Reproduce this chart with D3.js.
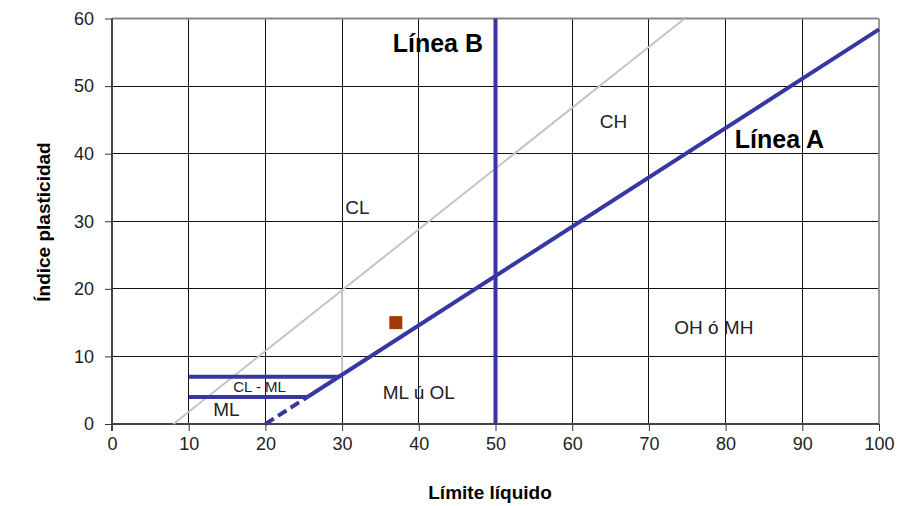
<!DOCTYPE html>
<html><head><meta charset="utf-8">
<script src="https://cdn.jsdelivr.net/npm/d3@7"></script>
<style>body{margin:0;background:#fff;} text{font-family:"Liberation Sans",Arial,sans-serif;}</style>
</head><body><svg id="c" width="899" height="506"></svg>
<script>
const xTicks = [0,10,20,30,40,50,60,70,80,90,100];
const yTicks = [0,10,20,30,40,50,60];
// A-line: PI = 0.73 (LL - 20)
const lineASolid = [[25.48,4],[100,58.4]];
const lineADashed = [[20,0],[25.48,4]];
// U-line: PI = 0.9 (LL - 8)
const lineU = [[8,0],[74.67,60]];
const lineB = [[50,0],[50,60]];
const clmlTop = [[10,7],[29.59,7]];
const clmlBottom = [[10,4],[25.48,4]];
const grayVert = [[30,7],[30,19.8]];
const samplePoint = [[37,15]];
const zoneLabels = [
  {t:"CH", x:63.6, y:43.8, size:19, bold:false},
  {t:"CL", x:30.4, y:31.1, size:19, bold:false},
  {t:"OH ó MH", x:73.3, y:13.3, size:19, bold:false},
  {t:"ML ú OL", x:35.3, y:3.7, size:19, bold:false},
  {t:"CL - ML", x:15.8, y:4.7, size:15, bold:false},
  {t:"ML", x:13.2, y:1.2, size:19, bold:false},
  {t:"Línea B", x:36.6, y:55.1, size:25, bold:true},
  {t:"Línea A", x:81.2, y:40.9, size:25, bold:true}
];

const svg = d3.select("#c");
const x = d3.scaleLinear().domain([0,100]).range([112,879]);
const y = d3.scaleLinear().domain([0,60]).range([424,18.5]);

// grid
svg.append("g").selectAll("line").data(xTicks.slice(1,-1)).join("line")
  .attr("x1",d=>x(d)).attr("x2",d=>x(d)).attr("y1",y(0)).attr("y2",y(60))
  .attr("stroke","#111").attr("stroke-width",1).attr("shape-rendering","crispEdges");
svg.append("g").selectAll("line").data(yTicks.slice(1,-1)).join("line")
  .attr("x1",x(0)).attr("x2",x(100)).attr("y1",d=>y(d)).attr("y2",d=>y(d))
  .attr("stroke","#111").attr("stroke-width",1).attr("shape-rendering","crispEdges");
// border top/right gray
svg.append("line").attr("x1",x(0)).attr("x2",x(100)).attr("y1",y(60)).attr("y2",y(60)).attr("stroke","#888").attr("stroke-width",2);
svg.append("line").attr("x1",x(100)).attr("x2",x(100)).attr("y1",y(0)).attr("y2",y(60)).attr("stroke","#999").attr("stroke-width",2);

// axes
const xAxis = d3.axisBottom(x).tickValues(xTicks).tickSize(7).tickPadding(6);
const yAxis = d3.axisLeft(y).tickValues(yTicks).tickSize(7).tickPadding(11);
const gx = svg.append("g").attr("transform",`translate(0,${y(0)})`).call(xAxis);
const gy = svg.append("g").attr("transform",`translate(${x(0)},0)`).call(yAxis);
[gx,gy].forEach(g=>{
  g.select(".domain").attr("stroke","#444").attr("stroke-width",2);
  g.selectAll(".tick line").attr("stroke","#333").attr("stroke-width",1);
  g.selectAll(".tick text").attr("font-family","Liberation Sans, Arial, sans-serif").attr("font-size",18).attr("fill","#222");
});
gx.select(".domain").attr("d",`M${x(0)},0H${x(100)}`);
gy.select(".domain").attr("d",`M0,${y(0)+7}V${y(60)}`);

const line = d3.line().x(d=>x(d[0])).y(d=>y(d[1]));
const blue = "#3737a3";
svg.append("path").attr("d",line(lineU)).attr("stroke","#c4c4c4").attr("stroke-width",2).attr("fill","none");
svg.append("path").attr("d",line(grayVert)).attr("stroke","#c4c4c4").attr("stroke-width",2).attr("fill","none");
svg.append("path").attr("d",line(lineASolid)).attr("stroke",blue).attr("stroke-width",4).attr("fill","none");
svg.append("path").attr("d",line(lineADashed)).attr("stroke",blue).attr("stroke-width",4).attr("fill","none").attr("stroke-dasharray","10,5");
svg.append("path").attr("d",line(lineB)).attr("stroke",blue).attr("stroke-width",4).attr("fill","none");
svg.append("path").attr("d",line(clmlTop)).attr("stroke",blue).attr("stroke-width",4).attr("fill","none");
svg.append("path").attr("d",line(clmlBottom)).attr("stroke",blue).attr("stroke-width",4).attr("fill","none");

svg.selectAll("rect.pt").data(samplePoint).join("rect").attr("class","pt")
  .attr("x",d=>x(d[0])-6.5).attr("y",d=>y(d[1])-6.5).attr("width",13).attr("height",13).attr("fill","#a33a0a");

svg.selectAll("text.lbl").data(zoneLabels).join("text").attr("class","lbl")
  .attr("x",d=>x(d.x)).attr("y",d=>y(d.y)).attr("text-anchor","start")
  .attr("font-size",d=>d.size).attr("font-weight",d=>d.bold?"bold":"normal")
  .attr("fill",d=>d.bold?"#000":"#222").text(d=>d.t);

svg.append("text").attr("x",490).attr("y",499).attr("text-anchor","middle")
  .attr("font-size",19).attr("font-weight","bold").text("Límite líquido");
svg.append("text").attr("transform",`translate(50,222) rotate(-90)`).attr("text-anchor","middle")
  .attr("font-size",19).attr("font-weight","bold").text("Índice plasticidad");
</script></body></html>
